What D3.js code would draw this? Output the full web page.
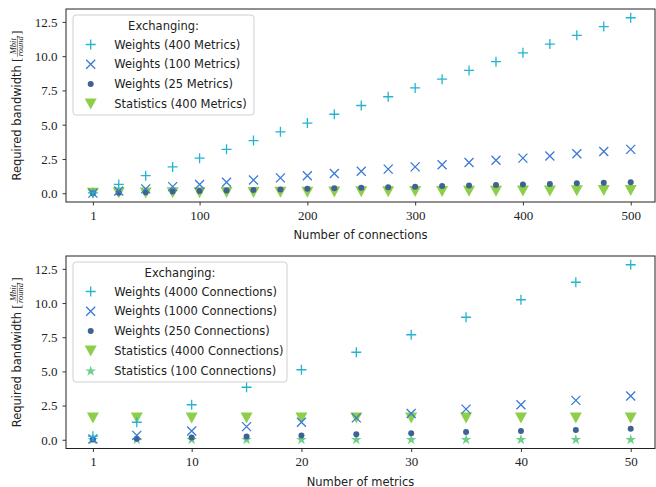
<!DOCTYPE html>
<html>
<head>
<meta charset="utf-8">
<script src="https://cdn.jsdelivr.net/npm/d3@7"></script>
<style>
  body { margin: 0; background: #fff; }
  svg { display: block; }
</style>
</head>
<body>
<div id="chart"></div>
<script>
// top panel: bandwidth vs number of connections
var connections = [1, 25, 50, 75, 100, 125, 150, 175, 200, 225, 250, 275, 300, 325, 350, 375, 400, 425, 450, 475, 500];
var weights400m = [0.03, 0.64, 1.28, 1.92, 2.56, 3.20, 3.84, 4.48, 5.12, 5.76, 6.40, 7.04, 7.68, 8.32, 8.96, 9.60, 10.24, 10.88, 11.52, 12.16, 12.80];
var weights100m = [0.01, 0.16, 0.32, 0.48, 0.64, 0.80, 0.96, 1.12, 1.28, 1.44, 1.60, 1.76, 1.92, 2.08, 2.24, 2.40, 2.56, 2.72, 2.88, 3.04, 3.20];
var weights25m = [0.00, 0.04, 0.08, 0.12, 0.16, 0.20, 0.24, 0.28, 0.32, 0.36, 0.40, 0.44, 0.48, 0.52, 0.56, 0.60, 0.64, 0.68, 0.72, 0.76, 0.80];
var stats400m = [0.00, 0.01, 0.02, 0.03, 0.04, 0.05, 0.06, 0.07, 0.08, 0.09, 0.10, 0.11, 0.12, 0.13, 0.14, 0.15, 0.16, 0.17, 0.18, 0.19, 0.20];
var connTicks = [1, 100, 200, 300, 400, 500];

// bottom panel: bandwidth vs number of metrics
var metrics = [1, 5, 10, 15, 20, 25, 30, 35, 40, 45, 50];
var weights4000c = [0.26, 1.28, 2.56, 3.84, 5.12, 6.40, 7.68, 8.96, 10.24, 11.52, 12.80];
var weights1000c = [0.06, 0.32, 0.64, 0.96, 1.28, 1.60, 1.92, 2.24, 2.56, 2.88, 3.20];
var weights250c = [0.02, 0.08, 0.16, 0.24, 0.32, 0.40, 0.48, 0.56, 0.64, 0.72, 0.80];
var stats4000c = [1.6, 1.6, 1.6, 1.6, 1.6, 1.6, 1.6, 1.6, 1.6, 1.6, 1.6];
var stats100c = [0.04, 0.04, 0.04, 0.04, 0.04, 0.04, 0.04, 0.04, 0.04, 0.04, 0.04];
var metricTicks = [1, 10, 20, 30, 40, 50];

var yTicks = [0, 2.5, 5, 7.5, 10, 12.5];

var w = 656, h = 487;
var sans = "'DejaVu Sans', sans-serif";
var serif = "'Liberation Serif', 'DejaVu Serif', serif";
var fs = 11.5;

var colors = {
  plus: "#25b4d0",
  cross: "#3a7ad6",
  dot: "#3f6194",
  tri: "#8dcf4a",
  star: "#6ccf88"
};

var svg = d3.select("#chart").append("svg")
  .attr("width", w)
  .attr("height", h);

// marker painters
function drawMarker(g, type, x, y) {
  if (type == "plus") {
    g.append("path")
      .attr("d", "M" + (x - 5) + "," + y + "H" + (x + 5) + "M" + x + "," + (y - 5) + "V" + (y + 5))
      .attr("stroke", colors.plus).attr("stroke-width", 1.3).attr("fill", "none");
  } else if (type == "cross") {
    g.append("path")
      .attr("d", "M" + (x - 4.5) + "," + (y - 4.5) + "L" + (x + 4.5) + "," + (y + 4.5) +
                 "M" + (x - 4.5) + "," + (y + 4.5) + "L" + (x + 4.5) + "," + (y - 4.5))
      .attr("stroke", colors.cross).attr("stroke-width", 1.3).attr("fill", "none");
  } else if (type == "dot") {
    g.append("circle").attr("cx", x).attr("cy", y).attr("r", 3).attr("fill", colors.dot);
  } else if (type == "tri") {
    g.append("path")
      .attr("d", "M" + (x - 6) + "," + (y - 5.5) + "L" + (x + 6) + "," + (y - 5.5) + "L" + x + "," + (y + 5.5) + "Z")
      .attr("fill", colors.tri);
  } else if (type == "star") {
    g.append("path")
      .attr("d", d3.symbol().type(d3.symbolStar).size(36)())
      .attr("transform", "translate(" + x + "," + (y + 0.5) + ")")
      .attr("fill", colors.star);
  }
}

function panel(opt) {
  var g = svg.append("g");
  var left = 66, right = 655;

  var x = d3.scaleLinear().domain(opt.xDomain).range([66, 657.6]);
  var y = d3.scaleLinear().domain([-0.64, 13.44]).range([opt.bottom, opt.top]);

  // series, statistics drawn first so weights sit on top
  var order = opt.series.slice().reverse();
  order.forEach(function(s) {
    var sg = g.append("g");
    opt.xs.forEach(function(d, i) {
      drawMarker(sg, s.marker, x(d), y(s.values[i]));
    });
  });

  // x axis
  var xAxis = g.append("g")
    .attr("transform", "translate(0," + opt.bottom + ")")
    .call(d3.axisBottom(x).tickValues(opt.xTicks).tickSize(3.5).tickPadding(5).tickFormat(d3.format("d")));
  xAxis.select(".domain").remove();
  xAxis.selectAll("line").attr("stroke", "#222").attr("stroke-width", 0.9);
  xAxis.selectAll("text").attr("font-family", serif).attr("font-size", 13).attr("fill", "#222");

  // y axis
  var yAxis = g.append("g")
    .attr("transform", "translate(" + left + ",0)")
    .call(d3.axisLeft(y).tickValues(yTicks).tickSize(3.5).tickPadding(5).tickFormat(d3.format(".1f")));
  yAxis.select(".domain").remove();
  yAxis.selectAll("line").attr("stroke", "#222").attr("stroke-width", 0.9);
  yAxis.selectAll("text").attr("font-family", serif).attr("font-size", 13).attr("fill", "#222")
    .attr("dy", "0.34em");

  // frame
  g.append("rect")
    .attr("x", left).attr("y", opt.top)
    .attr("width", right - left).attr("height", opt.bottom - opt.top)
    .attr("fill", "none").attr("stroke", "#222").attr("stroke-width", 1);

  // x label
  g.append("text")
    .attr("x", (left + right) / 2).attr("y", opt.bottom + 37)
    .attr("text-anchor", "middle")
    .attr("font-family", sans).attr("font-size", fs).attr("fill", "#222")
    .text(opt.xLabel);

  // y label with fraction Mbit/round
  var lab = g.append("g");
  var t1 = lab.append("text").attr("font-family", sans).attr("font-size", fs).attr("fill", "#222")
    .text("Required bandwidth");
  var w1 = t1.node().getComputedTextLength();
  var b1 = lab.append("text").attr("x", w1 + 3).attr("font-family", serif).attr("font-size", 13).attr("fill", "#222")
    .text("[");
  var bx = w1 + 3 + b1.node().getComputedTextLength() + 1;
  var num = lab.append("text").attr("font-family", serif).attr("font-style", "italic")
    .attr("font-size", 8.5).attr("fill", "#222").attr("y", -5.5).text("Mbit");
  var den = lab.append("text").attr("font-family", serif).attr("font-style", "italic")
    .attr("font-size", 8.5).attr("fill", "#222").attr("y", 2).text("round");
  var fw = Math.max(num.node().getComputedTextLength(), den.node().getComputedTextLength()) + 1;
  num.attr("x", bx + fw / 2).attr("text-anchor", "middle");
  den.attr("x", bx + fw / 2).attr("text-anchor", "middle");
  lab.append("line").attr("x1", bx).attr("x2", bx + fw).attr("y1", -3.6).attr("y2", -3.6)
    .attr("stroke", "#222").attr("stroke-width", 0.5);
  var b2 = lab.append("text").attr("x", bx + fw + 1).attr("font-family", serif).attr("font-size", 13).attr("fill", "#222")
    .text("]");
  var total = bx + fw + 1 + b2.node().getComputedTextLength();
  var cy = (opt.top + opt.bottom) / 2;
  lab.attr("transform", "translate(21," + (cy + total / 2) + ") rotate(-90)");

  // legend
  var lg = g.append("g");
  lg.append("rect")
    .attr("x", 73).attr("y", opt.top + 6)
    .attr("width", opt.legendWidth).attr("height", 20 + opt.series.length * 20)
    .attr("rx", 3)
    .attr("fill", "#fff").attr("fill-opacity", 0.8)
    .attr("stroke", "#d0d0d0").attr("stroke-width", 1);
  lg.append("text")
    .attr("x", 73 + opt.legendWidth / 2).attr("y", opt.top + 21)
    .attr("text-anchor", "middle")
    .attr("font-family", sans).attr("font-size", fs).attr("fill", "#222")
    .text("Exchanging:");
  opt.series.forEach(function(s, i) {
    var ly = opt.top + 35.5 + i * 19.8;
    drawMarker(lg, s.marker, 90.7, ly);
    lg.append("text")
      .attr("x", 114.3).attr("y", ly + 4)
      .attr("font-family", sans).attr("font-size", fs).attr("fill", "#222")
      .text(s.name);
  });
}

panel({
  top: 9, bottom: 202,
  xDomain: [-23.95, 524.95],
  xs: connections,
  xTicks: connTicks,
  xLabel: "Number of connections",
  legendWidth: 181,
  series: [
    { name: "Weights (400 Metrics)", marker: "plus", values: weights400m },
    { name: "Weights (100 Metrics)", marker: "cross", values: weights100m },
    { name: "Weights (25 Metrics)", marker: "dot", values: weights25m },
    { name: "Statistics (400 Metrics)", marker: "tri", values: stats400m }
  ]
});

panel({
  top: 256, bottom: 448.5,
  xDomain: [-1.45, 52.45],
  xs: metrics,
  xTicks: metricTicks,
  xLabel: "Number of metrics",
  legendWidth: 214,
  series: [
    { name: "Weights (4000 Connections)", marker: "plus", values: weights4000c },
    { name: "Weights (1000 Connections)", marker: "cross", values: weights1000c },
    { name: "Weights (250 Connections)", marker: "dot", values: weights250c },
    { name: "Statistics (4000 Connections)", marker: "tri", values: stats4000c },
    { name: "Statistics (100 Connections)", marker: "star", values: stats100c }
  ]
});
</script>
</body>
</html>
